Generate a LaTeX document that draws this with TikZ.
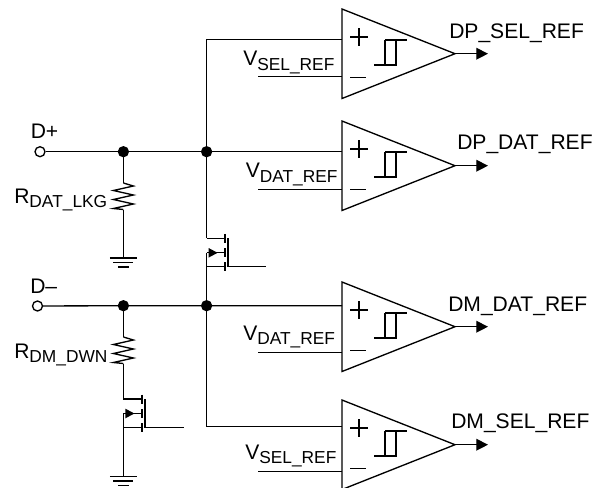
\documentclass[tikz,border=0pt]{standalone}
\usepackage{fontspec}
\setmainfont{Liberation Sans}
\usetikzlibrary{arrows.meta}
\newcommand{\sigtxt}[3]{\fontsize{15.8}{18}\selectfont #1\raisebox{-#3}{\fontsize{13}{15}\selectfont #2}}
\tikzset{
  x=0.75pt,y=-0.75pt,
  wire/.style={line width=1pt,line cap=butt,line join=miter},
  dot/.style={circle,fill=black,inner sep=0pt,minimum size=8.5pt},
  term/.style={circle,draw,fill=white,line width=1pt,inner sep=0pt,minimum size=7.5pt},
  txt/.style={inner sep=0pt,anchor=base west,font=\fontsize{15.8}{18}\selectfont},
  arrowout/.style={wire,-{Triangle[length=8.8pt,width=8.8pt]}}
}
\newcommand{\comparator}[4]{% name, top y, plus input offset, ref offset
  \begin{scope}[yshift=-0.75pt*#2]
    \draw[wire] (342,0) -- (455,44.7) -- (342,89.5) -- cycle;
    \coordinate (#1tip) at (455,44.7);
    \coordinate (#1p) at (342,#3);
    \coordinate (#1m) at (342,#4);
    \coordinate (#1o) at (488,44.7);
    \coordinate (#1r) at (258,#4);
    \draw[wire] (359,19) -- (359,36.5) (350,27.9) -- (368,27.9) (350,68.8) -- (366,68.8);
    \draw[wire] (374,56) -- (396,56) -- (396,31) (385,56) -- (385,31) (385,31) -- (407,31);
    \draw[arrowout] (#1tip) -- (#1o);
    \draw[wire] (#1r) -- (#1m);
  \end{scope}
}
\newcommand{\mosfet}[3]{% name, x, top y
  \begin{scope}[shift={(#2*0.75pt,-0.75pt*#3)}]
    \draw[wire] (0,0) -- (18.5,0) (18.5,-4.5) -- (18.5,4.5);
    \draw[wire] (0,14.5) -- (18.5,14.5) (18.5,10) -- (18.5,19);
    \draw[wire] (0,28.5) -- (18.5,28.5) (18.5,24) -- (18.5,33);
    \draw[wire] (21.5,0) -- (21.5,28.5);
    \fill (2,9.7) -- (11,14.5) -- (2,19.3) -- cycle;
    \coordinate (#1d) at (0,0);
    \coordinate (#1s) at (0,14.5);
    \coordinate (#1b) at (0,28.5);
    \coordinate (#1g) at (21.5,28.5);
  \end{scope}
}
\newcommand{\resistor}[2]{% x, top y
  \draw[wire] (#1,#2) -- ++(10,3) -- ++(-20,4.5) -- ++(20,4.5) -- ++(-20,4.5) -- ++(20,4.5) -- ++(-20,4.5) -- ++(10,1);
}
\newcommand{\gnd}[2]{% x, y
  \draw[wire] (#1-13.5,#2) -- (#1+13.5,#2) (#1-10,#2+4.5) -- (#1+10,#2+4.5) (#1-5.5,#2+9) -- (#1+5.5,#2+9);
}
\begin{document}
\begin{tikzpicture}
\useasboundingbox (0,0) rectangle (600,487);
\begin{scope}
\clip (0,0) rectangle (600,487);
\comparator{a}{9}{30.7}{67.7}
\comparator{b}{121}{30.7}{68.4}
\comparator{c}{282}{23.7}{70.7}
\comparator{d}{400}{26.5}{71.4}
\end{scope}
% junctions and terminals
\coordinate (jp1) at (123.4,151.7);
\coordinate (jp2) at (206.6,151.7);
\coordinate (jm1) at (123.4,305.7);
\coordinate (jm2) at (206.6,305.7);
\node[term] (tp) at (40,151.7) {};
\node[term] (tm) at (37.5,306) {};
% rails
\draw[wire] (tp) -- (jp1) -- (jp2) -- (bp);
\draw[wire] (tm) -- (jm1) -- (jm2) -- (cp);
\draw[wire] (ap) -| (jp2);
\draw[wire] (dp) -| (jm2);
% upper MOSFET
\mosfet{u}{206.6}{238.3}
\draw[wire] (jp2) -- (ud);
\draw[wire] (us) -- (jm2);
\draw[wire] (ug) -- ++(38,0);
% lower MOSFET
\mosfet{l}{123.4}{399}
\draw[wire] (lg) -- ++(39,0);
\coordinate (g2) at (123.4,476.5);
\draw[wire] (ls) -- (g2);
% resistors
\draw[wire] (jp1) -- (123.4,183);
\resistor{123.4}{183}
\draw[wire] (123.4,209.5) -- (123.4,258);
\gnd{123.4}{258}
\draw[wire] (jm1) -- (123.4,337);
\resistor{123.4}{337}
\draw[wire] (123.4,363.5) -- (ld);
\gnd{123.4}{476.5}
% dots
\node[dot] at (jp1) {};
\node[dot] at (jp2) {};
\node[dot] at (jm1) {};
\node[dot] at (jm2) {};
% labels
\node[txt] (lbp) at (30.5,138.5) {D+};
\node[txt] (lbm) at (30,293.3) {D–};
\node[txt] (lr1) at (14,203) {\sigtxt{R}{DAT\_LKG}{3.6pt}};
\node[txt] (lr2) at (14,358) {\sigtxt{R}{DM\_DWN}{3.3pt}};
\node[txt] (v1) at (243,65.5) {\sigtxt{V}{SEL\_REF}{3.5pt}};
\node[txt] (v2) at (245.5,177) {\sigtxt{V}{DAT\_REF}{4pt}};
\node[txt] (v3) at (243,340.5) {\sigtxt{V}{DAT\_REF}{3.2pt}};
\node[txt] (v4) at (245,459) {\sigtxt{V}{SEL\_REF}{3.2pt}};
\node[txt] (o1) at (449,38) {DP\_SEL\_REF};
\node[txt] (o2) at (457,149.5) {DP\_DAT\_REF};
\node[txt] (o3) at (448,311) {DM\_DAT\_REF};
\node[txt] (o4) at (451,428.5) {DM\_SEL\_REF};
\end{tikzpicture}
\end{document}
